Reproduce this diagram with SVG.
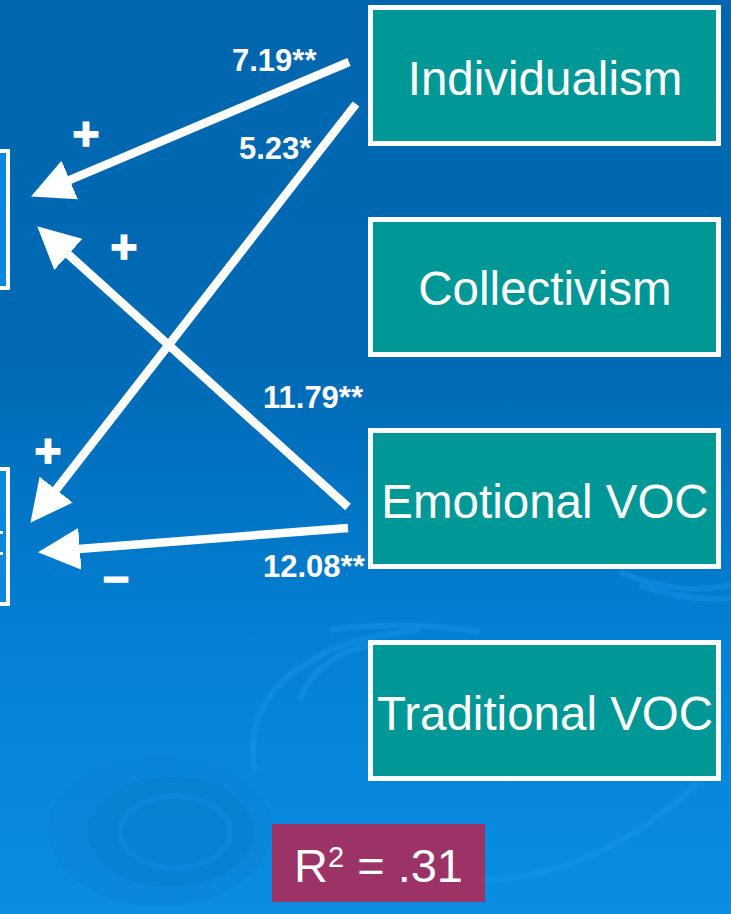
<svg xmlns="http://www.w3.org/2000/svg" width="731" height="914" viewBox="0 0 731 914">
<defs>
<linearGradient id="bg" x1="0" y1="0" x2="0" y2="1">
<stop offset="0" stop-color="#0066AE"/>
<stop offset="0.4" stop-color="#006AB5"/>
<stop offset="0.7" stop-color="#0480D4"/>
<stop offset="1" stop-color="#0A8EE2"/>
</linearGradient>
<marker id="head" markerUnits="userSpaceOnUse" markerWidth="42" markerHeight="42" viewBox="0 0 40 40" refX="20" refY="20" orient="auto">
<path d="M0,0 L40,20 L0,40 z" fill="#FFFFFF"/>
</marker>
<style>
.node{fill:#009797;stroke:#FFFFFF;stroke-width:5}
.side{fill:#0A88DD;stroke:#FFFFFF;stroke-width:4}
.lbl{font-family:"Liberation Sans",Arial,sans-serif;font-size:47.5px;fill:#FFFFFF;text-anchor:middle}
.num{font-family:"Liberation Sans",Arial,sans-serif;font-size:31px;font-weight:bold;fill:#FFFFFF}
.sign{font-family:"Liberation Sans",Arial,sans-serif;font-size:46px;font-weight:bold;fill:#FFFFFF;stroke:#FFFFFF;stroke-width:1.6;text-anchor:middle}
.conn{stroke:#FFFFFF;stroke-width:8.5;fill:none;marker-end:url(#head)}
.rip{fill:none;stroke:#1E9AEF;stroke-opacity:0.35;stroke-width:6}
</style>
</defs>
<rect x="0" y="0" width="731" height="914" fill="url(#bg)"/>
<g id="background">
<ellipse cx="160" cy="830" rx="112" ry="76" fill="#0A84D6" opacity="0.6"/>
<ellipse cx="171" cy="832" rx="83" ry="55" fill="#0A80D0" opacity="0.8"/>
<ellipse cx="175" cy="832" rx="55" ry="36" fill="none" stroke="#0A86DA" stroke-width="5"/>
<path class="rip" d="M255,770 C240,700 300,640 420,630"/>
<path class="rip" d="M330,630 C380,622 440,625 480,632"/>
<path class="rip" d="M300,700 C310,670 340,650 370,645"/>
<path class="rip" d="M620,572 C660,590 700,592 731,585"/>
<path class="rip" d="M640,585 C680,600 710,600 731,598"/>
<path class="rip" d="M480,880 C560,880 640,840 700,780"/>
</g>
<g id="left-box-1">
<rect class="side" x="-50" y="151" width="58" height="137"/>
</g>
<g id="left-box-2">
<rect class="side" x="-50" y="469" width="58" height="135"/>
<rect x="0" y="531" width="3" height="3" fill="#FFFFFF"/>
<rect x="0" y="552" width="3" height="3" fill="#FFFFFF"/>
</g>
<g id="individualism">
<rect class="node" x="370.5" y="7.5" width="348" height="136"/>
<text class="lbl" x="545" y="95">Individualism</text>
</g>
<g id="collectivism">
<rect class="node" x="370.5" y="219.5" width="348" height="135"/>
<text class="lbl" x="545" y="305">Collectivism</text>
</g>
<g id="emotional-voc">
<rect class="node" x="370.5" y="430.5" width="348" height="136"/>
<text class="lbl" x="545" y="518">Emotional VOC</text>
</g>
<g id="traditional-voc">
<rect class="node" x="370.5" y="642.5" width="348" height="136"/>
<text class="lbl" x="545" y="730">Traditional VOC</text>
</g>
<g id="r-squared">
<rect x="272" y="824" width="213" height="78" fill="#9B3366"/>
<text x="294" y="882" font-family="Liberation Sans,Arial,sans-serif" font-size="47" fill="#FFFFFF">R<tspan dy="-15" font-size="29">2</tspan><tspan dy="15"> = .31</tspan></text>
</g>
<g id="connectors">
<line class="conn" x1="349" y1="62" x2="50.4" y2="188.2"/>
<line class="conn" x1="356" y1="104" x2="43.3" y2="506.2"/>
<line class="conn" x1="348" y1="507" x2="52.8" y2="240.4"/>
<line class="conn" x1="348" y1="528" x2="58.9" y2="550.5"/>
<text class="num" x="232" y="71">7.19**</text>
<text class="num" x="239" y="159">5.23*</text>
<text class="num" x="263" y="408">11.79**</text>
<text class="num" x="263" y="577">12.08**</text>
<text class="sign" x="86" y="150">+</text>
<text class="sign" x="124" y="263">+</text>
<text class="sign" x="48" y="467">+</text>
<text class="sign" x="116" y="592">–</text>
</g>
</svg>
